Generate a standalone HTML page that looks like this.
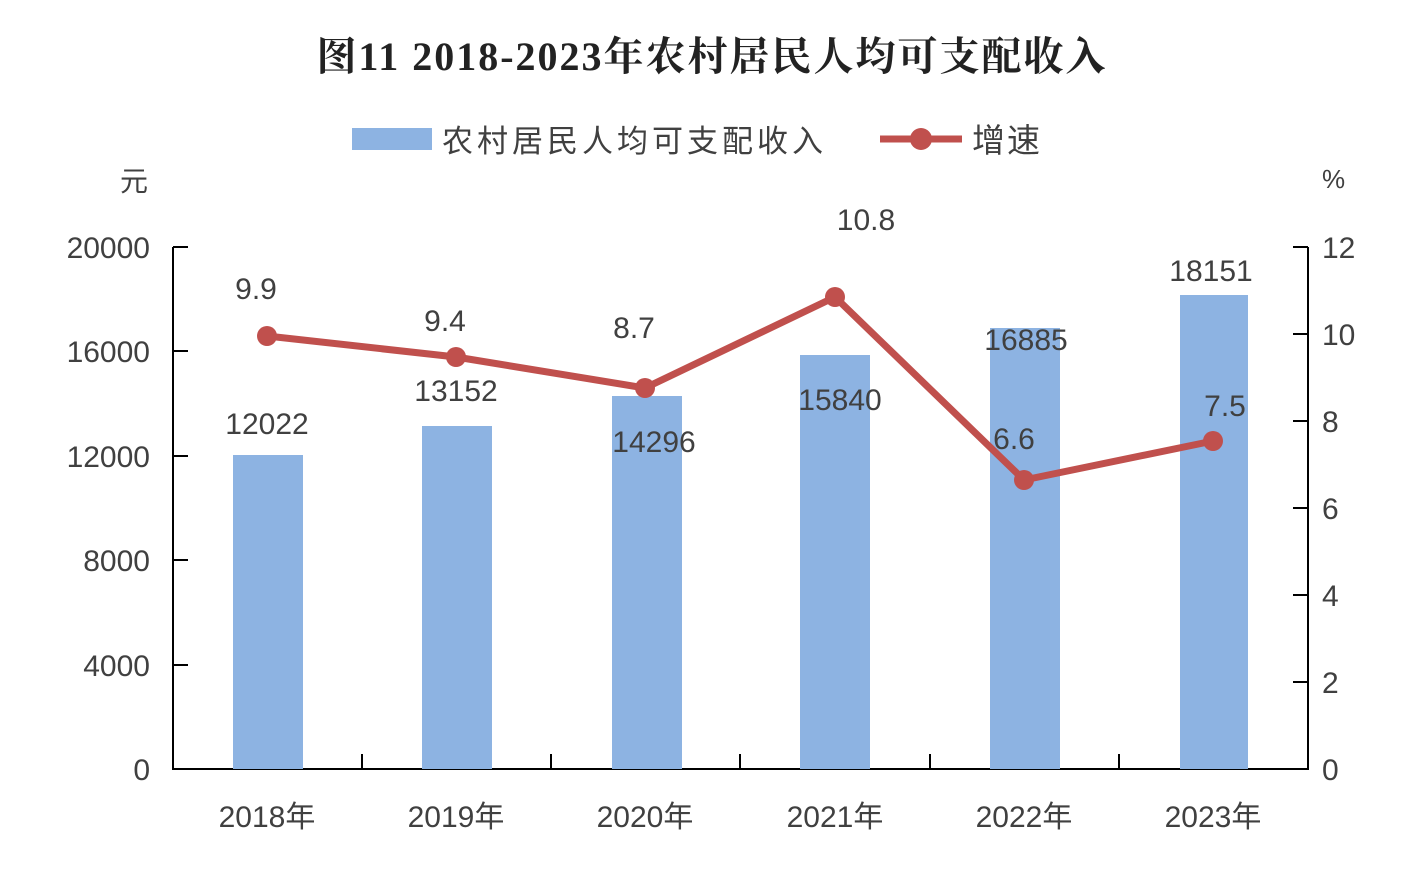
<!DOCTYPE html>
<html><head><meta charset="utf-8"><style>
body{margin:0;background:#fff;}
svg text{font-family:"Liberation Sans","Noto Sans CJK SC",sans-serif;fill:#404040;}
</style></head><body>
<svg width="1422" height="864" xmlns="http://www.w3.org/2000/svg">
<text x="712" y="70" text-anchor="middle" font-size="40" font-weight="bold" letter-spacing="2" style="fill:#222;font-family:'Liberation Serif','Noto Serif CJK SC',serif">图11 2018-2023年农村居民人均可支配收入</text>
<rect x="352" y="128" width="80" height="22" fill="#8db3e2"/>
<text x="442" y="152" font-size="31" letter-spacing="4">农村居民人均可支配收入</text>
<line x1="880" y1="139" x2="962" y2="139" stroke="#c0504d" stroke-width="7"/>
<circle cx="921" cy="139" r="11" fill="#c0504d"/>
<text x="972" y="152" font-size="33" letter-spacing="2">增速</text>
<text x="120" y="191" font-size="28">元</text>
<text x="1322" y="188" font-size="26">%</text>
<g stroke="#000" stroke-width="2">
<line x1="173" y1="247" x2="173" y2="770"/>
<line x1="1308" y1="247" x2="1308" y2="770"/>
<line x1="172" y1="769" x2="1309" y2="769"/>
<line x1="173" y1="247" x2="188" y2="247"/><line x1="173" y1="351" x2="188" y2="351"/><line x1="173" y1="456" x2="188" y2="456"/><line x1="173" y1="560" x2="188" y2="560"/><line x1="173" y1="665" x2="188" y2="665"/>
<line x1="1293" y1="247" x2="1308" y2="247"/><line x1="1293" y1="334" x2="1308" y2="334"/><line x1="1293" y1="421" x2="1308" y2="421"/><line x1="1293" y1="508" x2="1308" y2="508"/><line x1="1293" y1="595" x2="1308" y2="595"/><line x1="1293" y1="682" x2="1308" y2="682"/>
<line x1="362" y1="769" x2="362" y2="754"/><line x1="551" y1="769" x2="551" y2="754"/><line x1="740" y1="769" x2="740" y2="754"/><line x1="930" y1="769" x2="930" y2="754"/><line x1="1119" y1="769" x2="1119" y2="754"/>
</g>
<g font-size="30" text-anchor="end">
<text x="150" y="258">20000</text><text x="150" y="362">16000</text><text x="150" y="467">12000</text><text x="150" y="571">8000</text><text x="150" y="676">4000</text><text x="150" y="780">0</text>
</g>
<g font-size="30">
<text x="1322" y="258">12</text><text x="1322" y="345">10</text><text x="1322" y="432">8</text><text x="1322" y="519">6</text><text x="1322" y="606">4</text><text x="1322" y="693">2</text><text x="1322" y="780">0</text>
</g>
<g fill="#8db3e2">
<rect x="233" y="455" width="70" height="314"/>
<rect x="422" y="426" width="70" height="343"/>
<rect x="612" y="396" width="70" height="373"/>
<rect x="800" y="355" width="70" height="414"/>
<rect x="990" y="328" width="70" height="441"/>
<rect x="1180" y="295" width="68" height="474"/>
</g>
<g font-size="30" text-anchor="middle">
<text x="267" y="827">2018年</text><text x="456" y="827">2019年</text><text x="645" y="827">2020年</text><text x="835" y="827">2021年</text><text x="1024" y="827">2022年</text><text x="1213" y="827">2023年</text>
<text x="267" y="434">12022</text><text x="456" y="401">13152</text><text x="654" y="452">14296</text><text x="840" y="410">15840</text><text x="1026" y="350">16885</text><text x="1211" y="281">18151</text>
</g>
<polyline points="267,336 456,357 645,388 835,297 1024,480 1213,441" fill="none" stroke="#c0504d" stroke-width="7" stroke-linejoin="round"/>
<g fill="#c0504d">
<circle cx="267" cy="336" r="10"/><circle cx="456" cy="357" r="10"/><circle cx="645" cy="388" r="10"/><circle cx="835" cy="297" r="10"/><circle cx="1024" cy="480" r="10"/><circle cx="1213" cy="441" r="10"/>
</g>
<g font-size="30" text-anchor="middle">
<text x="256" y="299">9.9</text><text x="445" y="331">9.4</text><text x="634" y="338">8.7</text><text x="866" y="230">10.8</text><text x="1014" y="449">6.6</text><text x="1225" y="416">7.5</text>
</g>
</svg>
</body></html>
